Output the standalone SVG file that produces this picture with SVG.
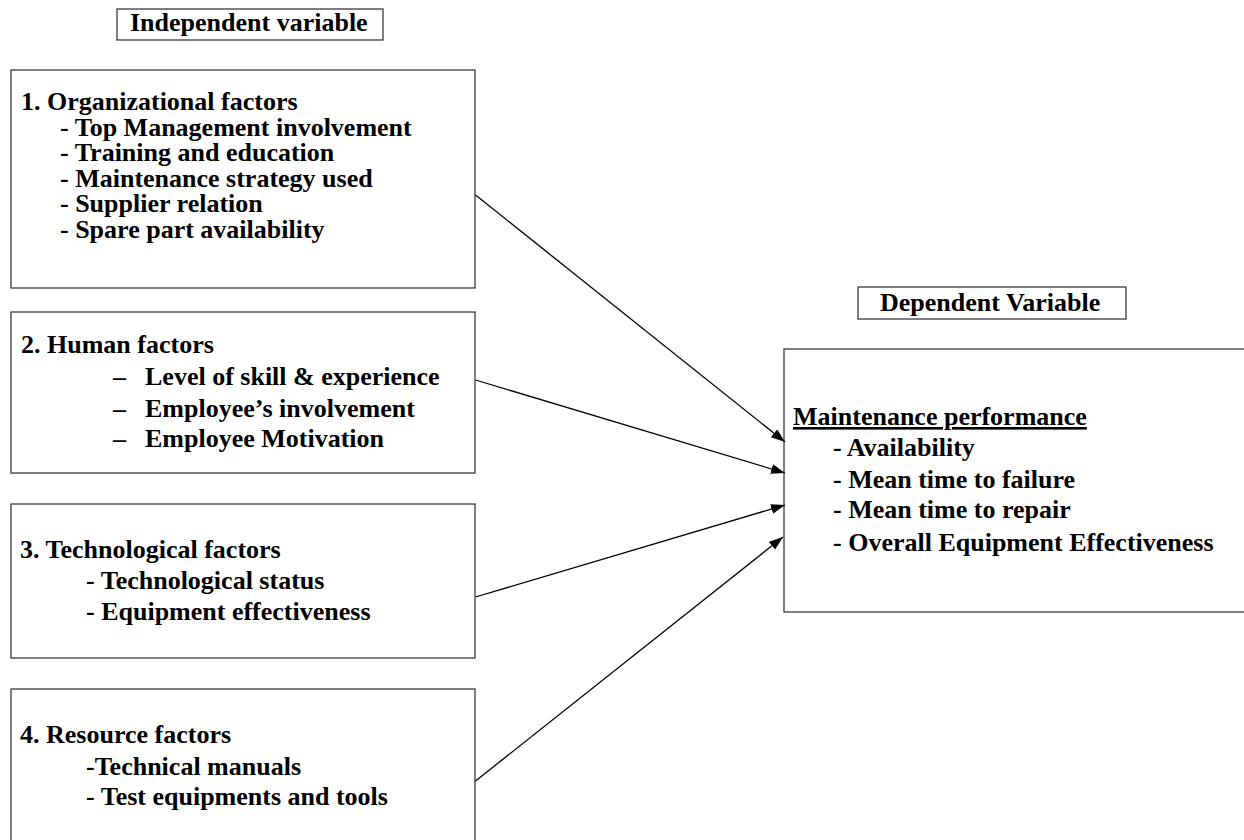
<svg xmlns="http://www.w3.org/2000/svg" width="1244" height="840" viewBox="0 0 1244 840">
  <style>
    .box { fill: #ffffff; stroke: #3a3a3a; stroke-width: 1.3; }
    .t { font-family: "Liberation Serif", "Times New Roman", serif; font-weight: bold; font-size: 26px; fill: #000000; }
    .u { text-decoration: underline; }
    .edge { stroke: #000000; stroke-width: 1.3; fill: none; marker-end: url(#arrow); }
  </style>
  <defs>
    <marker id="arrow" markerUnits="userSpaceOnUse" markerWidth="15" markerHeight="11" refX="14" refY="5" orient="auto">
      <path d="M0,0 L14,5 L0,10 z" fill="#000000"/>
    </marker>
  </defs>
  <rect width="1244" height="840" fill="#ffffff"/>

  <g id="label-independent">
    <rect class="box" x="117" y="9" width="266" height="31"/>
    <text class="t" x="130" y="31">Independent variable</text>
  </g>

  <g id="label-dependent">
    <rect class="box" x="858" y="287" width="268" height="32"/>
    <text class="t" x="880" y="311">Dependent Variable</text>
  </g>

  <g id="node-organizational">
    <rect class="box" x="11" y="70" width="464" height="218"/>
    <text class="t" x="21" y="110">1. Organizational factors</text>
    <text class="t" x="60" y="135.5">- Top Management involvement</text>
    <text class="t" x="60" y="161">- Training and education</text>
    <text class="t" x="60" y="186.5">- Maintenance strategy used</text>
    <text class="t" x="60" y="212">- Supplier relation</text>
    <text class="t" x="60" y="237.5">- Spare part availability</text>
  </g>

  <g id="node-human">
    <rect class="box" x="11" y="312" width="464" height="161"/>
    <text class="t" x="21" y="353">2. Human factors</text>
    <text class="t" x="113" y="385">–</text>
    <text class="t" x="145" y="385">Level of skill &amp; experience</text>
    <text class="t" x="113" y="417">–</text>
    <text class="t" x="145" y="417">Employee’s involvement</text>
    <text class="t" x="113" y="447">–</text>
    <text class="t" x="145" y="447">Employee Motivation</text>
  </g>

  <g id="node-technological">
    <rect class="box" x="11" y="504" width="464" height="154"/>
    <text class="t" x="20" y="558">3. Technological factors</text>
    <text class="t" x="86" y="589">- Technological status</text>
    <text class="t" x="86" y="620">- Equipment effectiveness</text>
  </g>

  <g id="node-resource">
    <rect class="box" x="11" y="689" width="464" height="170"/>
    <text class="t" x="20" y="743">4. Resource factors</text>
    <text class="t" x="86" y="775">-Technical manuals</text>
    <text class="t" x="86" y="805">- Test equipments and tools</text>
  </g>

  <g id="node-maintenance-performance">
    <rect class="box" x="784" y="349" width="470" height="263"/>
    <text class="t u" x="793" y="425">Maintenance performance</text>
    <text class="t" x="833" y="456">- Availability</text>
    <text class="t" x="833" y="488">- Mean time to failure</text>
    <text class="t" x="833" y="518">- Mean time to repair</text>
    <text class="t" x="833" y="551">- Overall Equipment Effectiveness</text>
  </g>

  <g id="connectors">
    <line class="edge" x1="475.5" y1="195" x2="785" y2="442"/>
    <line class="edge" x1="475.5" y1="380" x2="785" y2="473"/>
    <line class="edge" x1="475.5" y1="597" x2="785" y2="505"/>
    <line class="edge" x1="475.5" y1="781" x2="783" y2="537"/>
  </g>
</svg>
